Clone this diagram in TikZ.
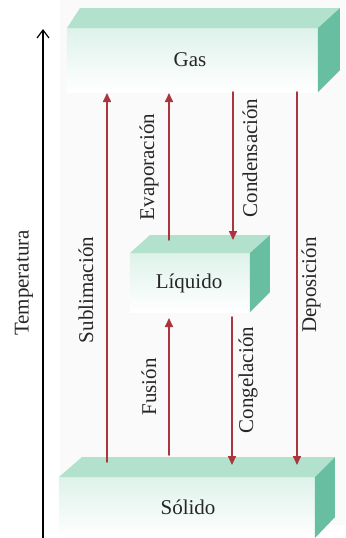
\documentclass[tikz,border=0pt]{standalone}
\usepackage{fontspec}
\setmainfont{Liberation Serif}
\usetikzlibrary{arrows.meta,positioning}
\definecolor{mintTop}{RGB}{178,226,206}
\definecolor{mintSide}{RGB}{104,190,160}
\definecolor{mintFront}{RGB}{222,242,234}
\definecolor{arrowRed}{RGB}{172,52,62}

\begin{document}
\begin{tikzpicture}[x=0.5pt,y=-0.5pt,line cap=round,line join=round,
  topface/.style={fill=mintTop,draw=none},
  sideface/.style={fill=mintSide,draw=none},
  frontface/.style={top color=mintFront,bottom color=white,draw=none},
  phase/.style={font=\rmfamily\fontsize{10.5}{12}\selectfont,text=black!85},
  proc/.style={font=\rmfamily\fontsize{10.5}{12}\selectfont,text=black!85,rotate=90},
  trans/.style={draw=arrowRed,line width=.8pt,-{Triangle[length=4.5pt,width=4pt]}}]
\path[use as bounding box] (0,0) rectangle (345,538);
\fill[black!2] (60,0) rectangle (345,525);
% gas
\path[frontface] (67,28) rectangle (318,92);
\path[topface] (67,28) -- (80,8) -- (340,8) -- (318,28) -- cycle;
\path[sideface] (318,28) -- (340,8) -- (340,70) -- (318,92) -- cycle;
% liquido
\path[frontface] (130,253) rectangle (250,312);
\path[topface] (130,253) -- (150,235) -- (270,235) -- (250,253) -- cycle;
\path[sideface] (250,253) -- (270,235) -- (270,292) -- (250,312) -- cycle;
% solido
\path[frontface] (59,477) rectangle (315,538);
\path[topface] (59,477) -- (82,457) -- (335,457) -- (315,477) -- cycle;
\path[sideface] (315,477) -- (335,457) -- (335,517) -- (315,538) -- cycle;
\node[phase] (gas) at (190,60) {Gas};
\node[phase] (liq) at (189,283) {Líquido};
\node[phase] (sol) at (188,507) {Sólido};
% ends of the arrows
\coordinate (subA) at (107,462); \coordinate (subB) at (107,93);
\coordinate (evaA) at (169,240); \coordinate (evaB) at (169,93);
\coordinate (conA) at (233,92);  \coordinate (conB) at (233,240);
\coordinate (depA) at (297,92);  \coordinate (depB) at (297,465);
\coordinate (fusA) at (169,455); \coordinate (fusB) at (169,318);
\coordinate (cngA) at (232,317); \coordinate (cngB) at (232,465);
\draw[trans] (subA) -- (subB);
\draw[trans] (evaA) -- (evaB);
\draw[trans] (conA) -- (conB);
\draw[trans] (depA) -- (depB);
\draw[trans] (fusA) -- (fusB);
\draw[trans] (cngA) -- (cngB);
\node[proc] (sub) at (86,290) {Sublimación};
\node[proc] (eva) at (149,167) {Evaporación};
\node[proc] (con) at (250,158) {Condensación};
\node[proc] (dep) at (311,285) {Deposición};
\node[proc] (fus) at (149,387) {Fusión};
\node[proc] (cng) at (248,380) {Congelación};
% temperatura
\coordinate (tLow) at (43,538);
\coordinate (tHigh) at (43,29);
\draw[black,line width=.6pt,-{Straight Barb[length=4pt,width=6pt]}] (tLow) -- (tHigh);
\node[proc] (temp) at (24,283) {Temperatura};
\end{tikzpicture}
\end{document}
